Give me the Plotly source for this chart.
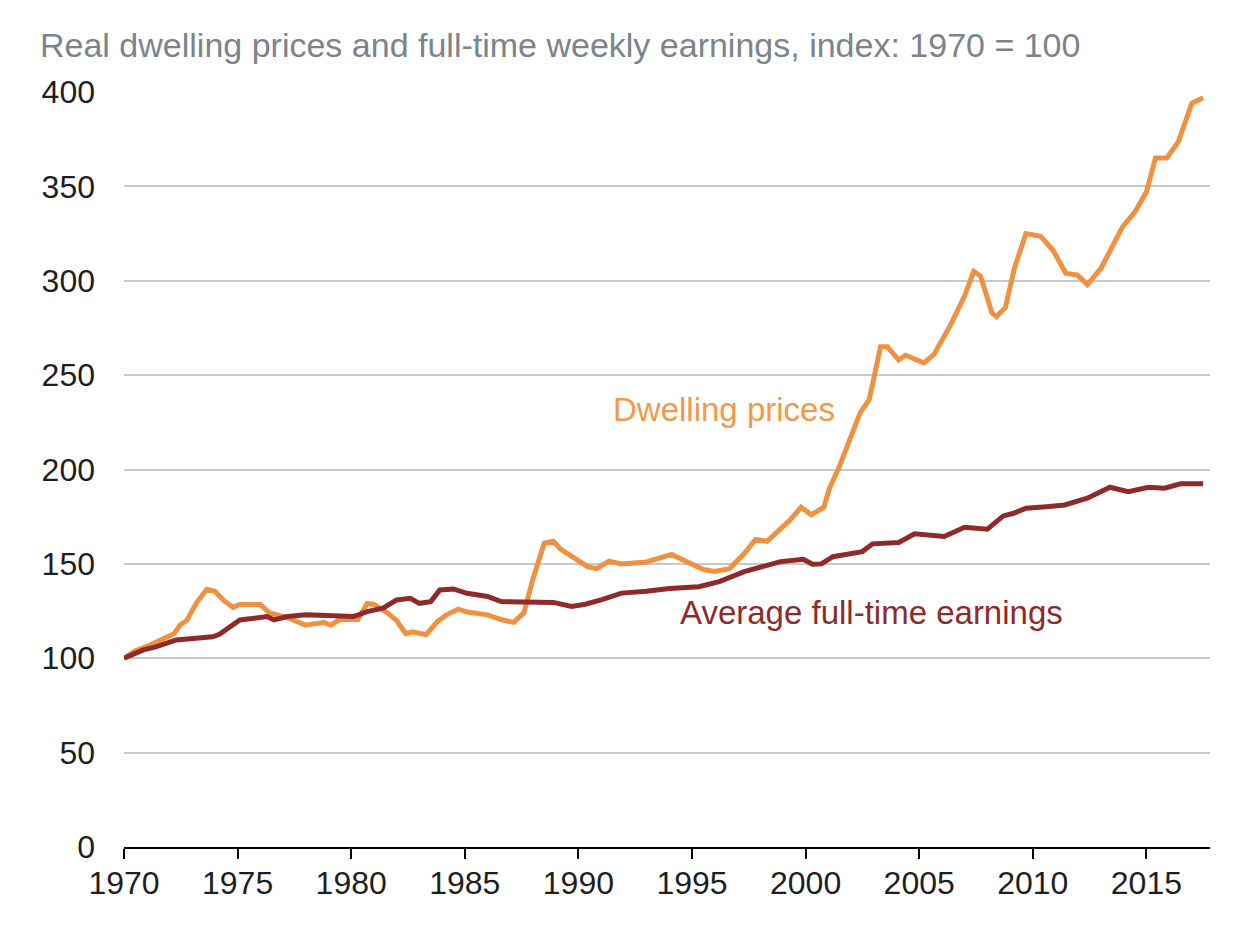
import plotly.graph_objects as go

# Real dwelling prices vs full-time weekly earnings (index 1970 = 100)
# values, x in decimal years

dwelling_years = [1970.0, 1970.5, 1971.15, 1971.7, 1972.2, 1972.5, 1972.76, 1973.2, 1973.64, 1974.0,
                  1974.4, 1974.8, 1975.1, 1976.0, 1976.4, 1977.2, 1978.0, 1978.8, 1979.1, 1979.5,
                  1980.3, 1980.7, 1981.0, 1981.6, 1982.0, 1982.4, 1982.7, 1983.3, 1983.8, 1984.2,
                  1984.7, 1985.1, 1986.0, 1986.6, 1987.15, 1987.6, 1988.0, 1988.5, 1988.9, 1989.2,
                  1989.8, 1990.4, 1990.8, 1991.35, 1991.9, 1993.0, 1994.1, 1994.8, 1995.5, 1996.0,
                  1996.65, 1997.3, 1997.8, 1998.3, 1999.3, 1999.8, 2000.25, 2000.8, 2001.05, 2001.5,
                  2002.05, 2002.4, 2002.8, 2003.3, 2003.6, 2004.1, 2004.4, 2005.2, 2005.65, 2006.4,
                  2007.0, 2007.4, 2007.7, 2008.2, 2008.4, 2008.8, 2009.2, 2009.7, 2010.35, 2010.9,
                  2011.45, 2011.97, 2012.4, 2013.0, 2013.95, 2014.5, 2015.0, 2015.4, 2015.9, 2016.4,
                  2017.0, 2017.5]
dwelling_index = [100, 104, 107, 110, 113, 118, 120, 129.5, 136.5, 135.5,
                  130.5, 127, 128.5, 128.5, 124, 121.5, 117.5, 119, 117.5, 120.5,
                  120.5, 129, 128.5, 124, 120, 113, 114, 112.5, 119.5, 123,
                  126, 124.5, 123, 120.5, 119, 124, 142, 161, 162, 158,
                  153.5, 148.5, 147.5, 151.5, 150, 151, 155, 151, 147, 146,
                  147.5, 155.5, 163, 162, 173, 180, 176, 180, 190, 202,
                  219, 230, 237, 265, 265, 258, 260.5, 256.5, 261, 277,
                  292, 305, 302.5, 283, 281, 286, 307, 325, 323.5, 316,
                  304, 303, 298, 306.5, 328.5, 336.5, 347, 365, 365, 373.5,
                  394, 397]

earnings_years = [1970.0, 1970.85, 1971.4, 1972.3, 1973.9, 1974.2, 1975.1, 1975.7, 1976.3, 1976.6,
                  1977.2, 1978.0, 1978.9, 1979.8, 1980.1, 1980.7, 1981.4, 1982.0, 1982.6, 1983.0,
                  1983.5, 1983.9, 1984.5, 1985.1, 1986.0, 1986.6, 1987.8, 1988.9, 1989.7, 1990.3,
                  1991.0, 1991.9, 1993.0, 1994.0, 1995.3, 1996.2, 1997.3, 1998.0, 1998.9, 1999.9,
                  2000.3, 2000.7, 2001.2, 2002.5, 2002.95, 2004.1, 2004.8, 2006.1, 2007.0, 2008.0,
                  2008.7, 2009.15, 2009.7, 2010.6, 2011.4, 2012.4, 2013.4, 2014.2, 2015.1, 2015.8,
                  2016.5, 2017.5]
earnings_index = [100, 104.4, 106, 109.7, 111.4, 112.7, 120.3, 121.1, 122.1, 120.3,
                  122.1, 123, 122.6, 121.6, 122.1, 124.7, 126.5, 130.9, 131.8, 129.1,
                  130, 136.2, 136.7, 134.4, 132.7, 130, 129.6, 129.6, 127.4, 128.6,
                  130.9, 134.5, 135.5, 137, 137.9, 140.6, 145.9, 148.5, 151.2, 152.4,
                  149.8, 150, 153.8, 156.5, 160.6, 161.3, 165.9, 164.5, 169.4, 168.4,
                  175.4, 176.8, 179.5, 180.3, 181.2, 184.8, 190.6, 188.3, 190.6, 190.1,
                  192.4, 192.4]

x_ticks = [1970, 1975, 1980, 1985, 1990, 1995, 2000, 2005, 2010, 2015]
y_ticks = [0, 50, 100, 150, 200, 250, 300, 350, 400]

ORANGE = "#EE9140"
MAROON = "#8E2A2A"
FONT = "Liberation Sans, Arial, sans-serif"

fig = go.Figure()
fig.add_trace(go.Scatter(x=dwelling_years, y=dwelling_index, mode="lines",
                         line=dict(color=ORANGE, width=5), name="Dwelling prices"))
fig.add_trace(go.Scatter(x=earnings_years, y=earnings_index, mode="lines",
                         line=dict(color=MAROON, width=5), name="Average full-time earnings"))

# in-chart labels instead of a legend
fig.add_annotation(x=1996.4, y=232, text="Dwelling prices", showarrow=False,
                   font=dict(family=FONT, size=33, color="#F0994A"))
fig.add_annotation(x=2002.9, y=124, text="Average full-time earnings", showarrow=False,
                   font=dict(family=FONT, size=33, color=MAROON))

# the page body adds 8px, so margins are trimmed by that much
fig.update_layout(
    width=1258, height=928,
    margin=dict(l=116, r=56, t=84, b=89),
    paper_bgcolor="white", plot_bgcolor="white",
    showlegend=False,
    font=dict(family=FONT, size=32, color="#1E1E1E"),
    title=dict(text="Real dwelling prices and full-time weekly earnings, index: 1970 = 100",
               x=32 / 1258, xref="container", xanchor="left",
               y=1 - 37 / 928, yref="container", yanchor="middle",
               font=dict(family=FONT, size=34, color="#7D838B")),
)
fig.update_xaxes(range=[1970, 2017.8], tickvals=x_ticks, showgrid=False, zeroline=False,
                 showline=True, linecolor="black", linewidth=2,
                 ticks="outside", ticklen=10, tickwidth=1.5, tickcolor="black",
                 ticklabelstandoff=-3, automargin=False)
fig.update_yaxes(range=[0, 400], tickvals=y_ticks, showgrid=True, gridcolor="#C8C8C8",
                 gridwidth=1.5, zeroline=False, showline=False, ticks="",
                 ticklabelstandoff=28, automargin=False)

fig.write_html("out.html")
